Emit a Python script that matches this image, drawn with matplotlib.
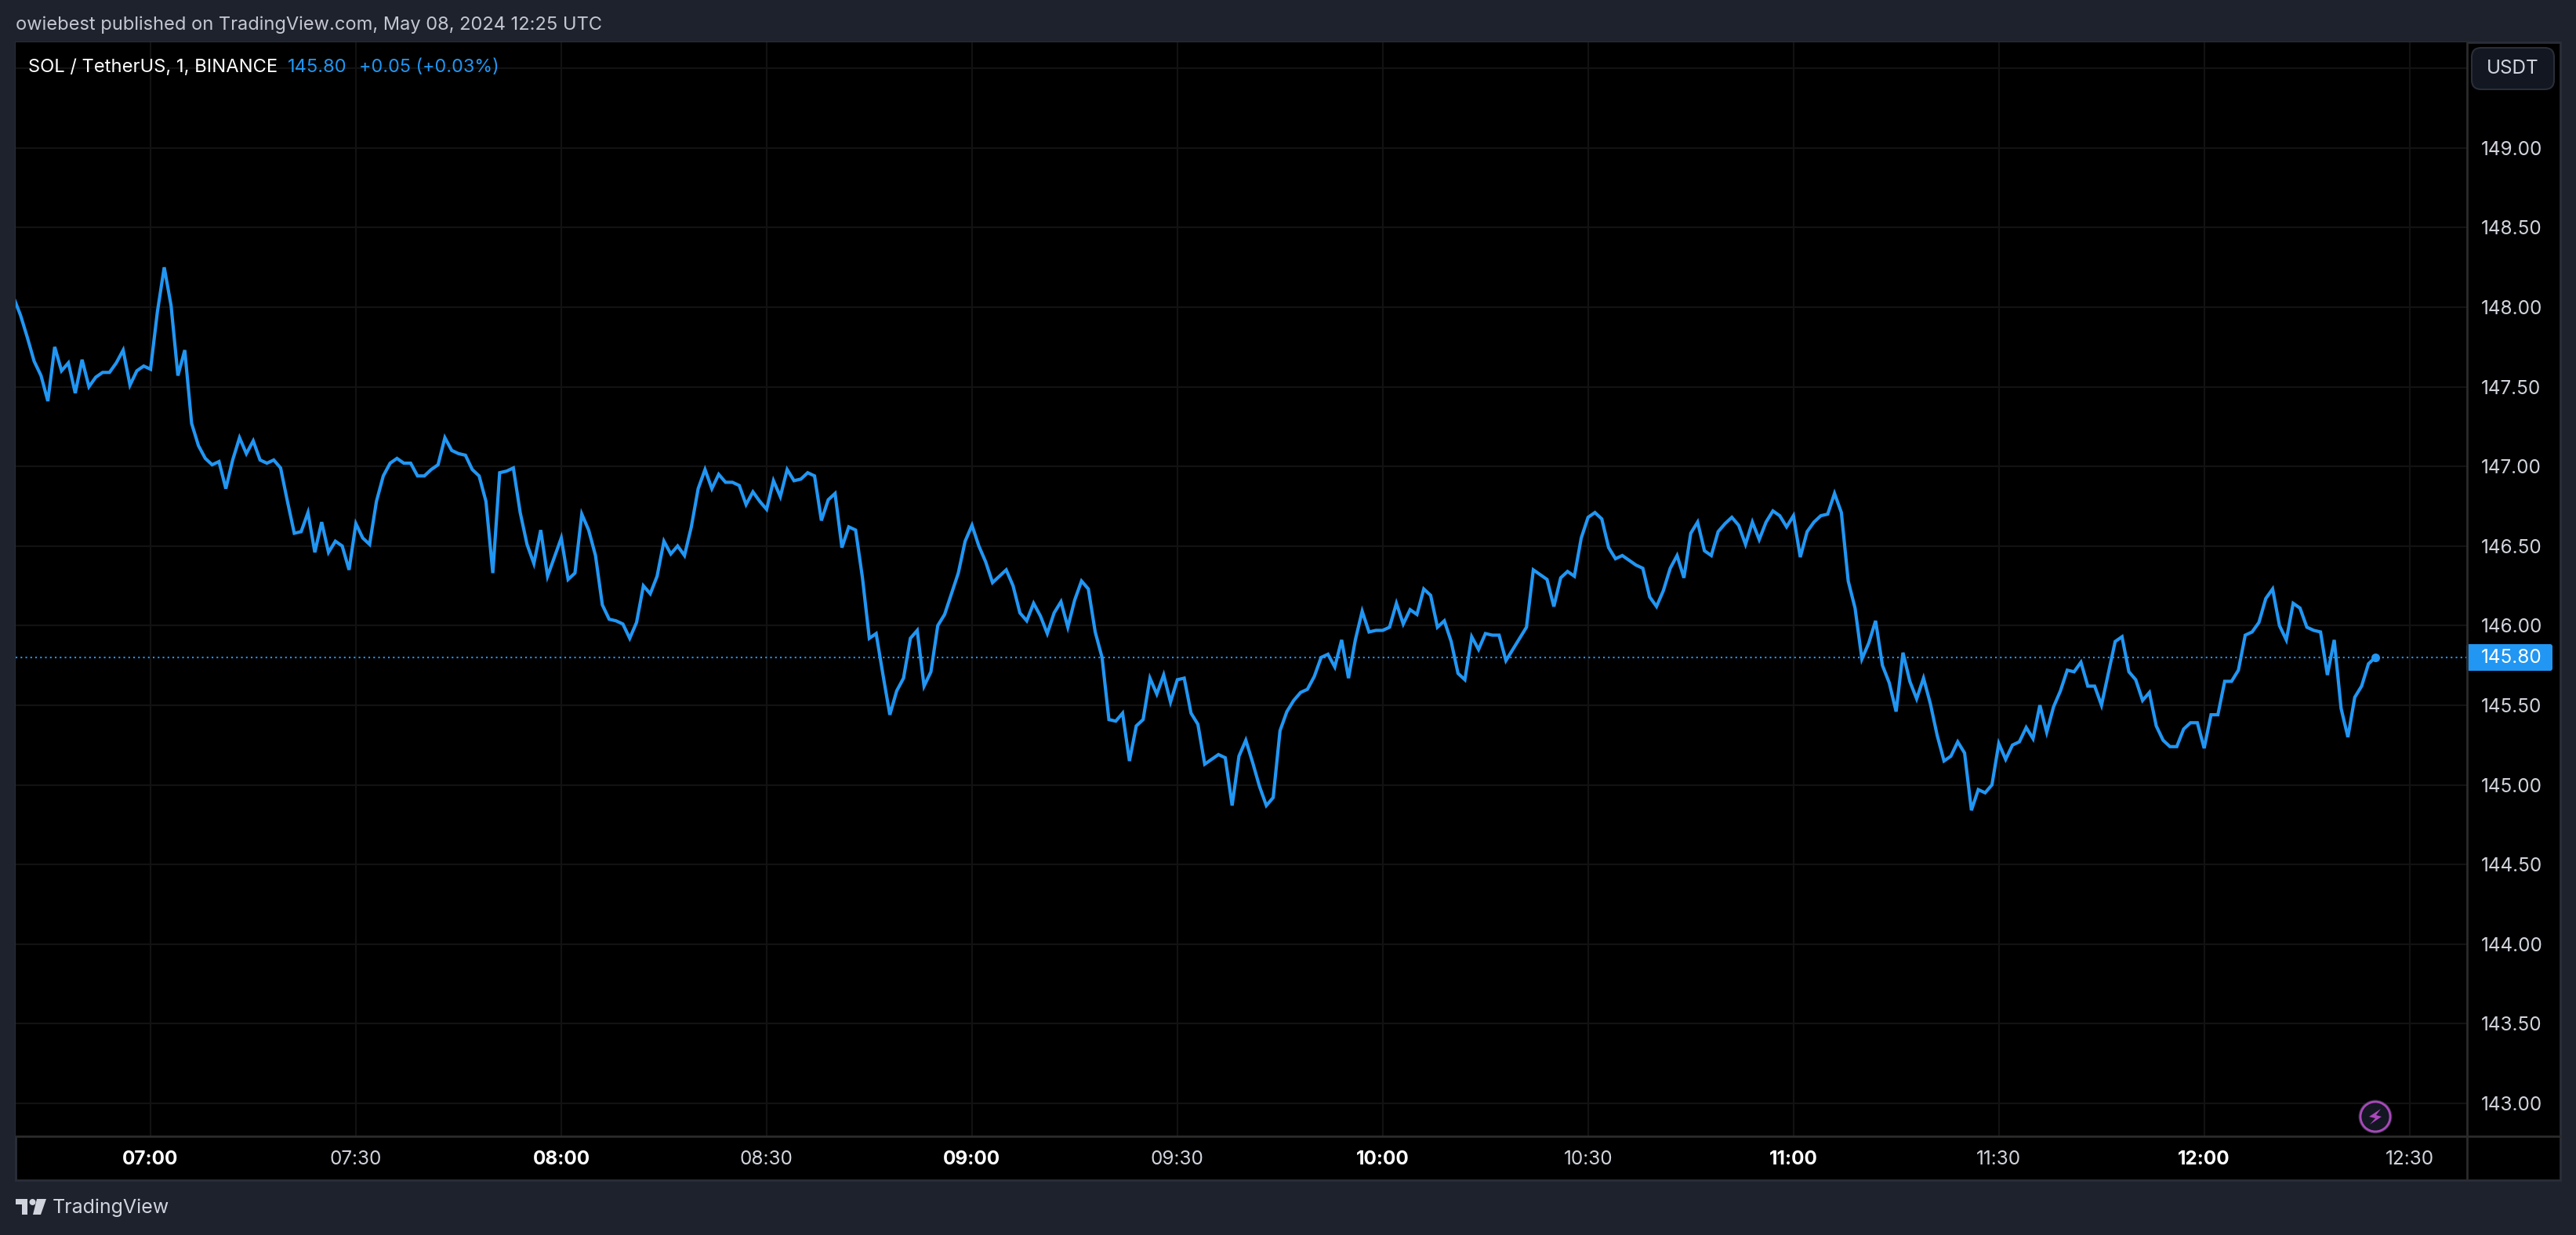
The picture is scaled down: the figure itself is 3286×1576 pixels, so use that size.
# -*- coding: utf-8 -*-
import numpy as np
import pandas as pd
import matplotlib
matplotlib.use('Agg')
import matplotlib.pyplot as plt
from matplotlib.patches import Rectangle, Circle, Polygon, FancyBboxPatch

W, H = 3286, 1576

# 1 minute closes, 06:40 to 12:25
prices = [
    148.06, 147.95, 147.81, 147.66, 147.57, 147.41, 147.75, 147.60, 147.65, 147.46,
    147.67, 147.50, 147.56, 147.59, 147.59, 147.65, 147.73, 147.51, 147.60, 147.63,
    147.61, 147.97, 148.25, 148.01, 147.57, 147.73, 147.27, 147.13, 147.05, 147.01,
    147.03, 146.86, 147.04, 147.18, 147.08, 147.16, 147.04, 147.02, 147.04, 146.99,
    146.78, 146.58, 146.59, 146.71, 146.46, 146.65, 146.46, 146.53, 146.50, 146.35,
    146.64, 146.55, 146.51, 146.78, 146.94, 147.02, 147.05, 147.02, 147.02, 146.94,
    146.94, 146.98, 147.01, 147.18, 147.10, 147.08, 147.07, 146.98, 146.94, 146.78,
    146.33, 146.96, 146.97, 146.99, 146.71, 146.51, 146.39, 146.60, 146.31, 146.43,
    146.55, 146.29, 146.33, 146.70, 146.60, 146.44, 146.13, 146.04, 146.03, 146.01,
    145.92, 146.02, 146.25, 146.20, 146.31, 146.53, 146.45, 146.50, 146.44, 146.62,
    146.86, 146.98, 146.86, 146.95, 146.90, 146.90, 146.88, 146.76, 146.84, 146.78,
    146.73, 146.91, 146.81, 146.98, 146.91, 146.92, 146.96, 146.94, 146.66, 146.79,
    146.83, 146.49, 146.62, 146.60, 146.30, 145.92, 145.95, 145.69, 145.44, 145.59,
    145.67, 145.92, 145.97, 145.62, 145.71, 146.00, 146.07, 146.20, 146.33, 146.53,
    146.63, 146.50, 146.40, 146.27, 146.31, 146.35, 146.25, 146.08, 146.03, 146.14,
    146.06, 145.95, 146.08, 146.15, 145.99, 146.16, 146.28, 146.23, 145.96, 145.80,
    145.41, 145.40, 145.45, 145.15, 145.37, 145.41, 145.67, 145.57, 145.69, 145.52,
    145.66, 145.67, 145.45, 145.38, 145.13, 145.16, 145.19, 145.17, 144.87, 145.18,
    145.28, 145.14, 144.99, 144.87, 144.92, 145.34, 145.46, 145.53, 145.58, 145.60,
    145.68, 145.80, 145.82, 145.74, 145.91, 145.67, 145.91, 146.09, 145.96, 145.97,
    145.97, 145.99, 146.14, 146.01, 146.10, 146.07, 146.23, 146.19, 145.99, 146.03,
    145.90, 145.70, 145.66, 145.93, 145.85, 145.95, 145.94, 145.94, 145.78, 145.85,
    145.92, 145.99, 146.35, 146.32, 146.29, 146.12, 146.30, 146.34, 146.31, 146.55,
    146.68, 146.71, 146.67, 146.49, 146.42, 146.44, 146.41, 146.38, 146.36, 146.18,
    146.12, 146.22, 146.36, 146.44, 146.30, 146.58, 146.65, 146.47, 146.44, 146.59,
    146.64, 146.68, 146.63, 146.51, 146.65, 146.54, 146.65, 146.72, 146.69, 146.62,
    146.69, 146.43, 146.59, 146.65, 146.69, 146.70, 146.83, 146.71, 146.28, 146.11,
    145.79, 145.89, 146.03, 145.75, 145.64, 145.46, 145.83, 145.65, 145.54, 145.67,
    145.51, 145.31, 145.15, 145.18, 145.27, 145.20, 144.84, 144.97, 144.95, 145.00,
    145.26, 145.16, 145.25, 145.27, 145.36, 145.29, 145.50, 145.33, 145.49, 145.59,
    145.72, 145.71, 145.77, 145.62, 145.62, 145.50, 145.70, 145.90, 145.93, 145.71,
    145.66, 145.53, 145.58, 145.37, 145.28, 145.24, 145.24, 145.35, 145.39, 145.39,
    145.23, 145.44, 145.44, 145.65, 145.65, 145.72, 145.94, 145.96, 146.02, 146.17,
    146.23, 146.00, 145.91, 146.14, 146.11, 145.99, 145.97, 145.96, 145.69, 145.91,
    145.48, 145.30, 145.55, 145.62, 145.76, 145.80,
]
last_price = 145.80
price_ticks = [143.0, 143.5, 144.0, 144.5, 145.0, 145.5, 146.0, 146.5, 147.0, 147.5, 148.0, 148.5, 149.0]
hidden_grid = [149.5]
time_ticks = ['07:00', '07:30', '08:00', '08:30', '09:00', '09:30', '10:00', '10:30',
              '11:00', '11:30', '12:00', '12:30']

BG = '#1e222d'
BORDER = '#2a2e39'
AXIS_LINE = '#2b2b2b'
GRID = '#121212'
BLUE = '#2196f3'
TXT = '#d1d4dc'

plt.rcParams['font.family'] = ['Inter', 'Roboto', 'DejaVu Sans']

fig = plt.figure(figsize=(W / 100, H / 100), dpi=100, facecolor=BG)


def px_axes(zorder):
    # whole figure in pixel coordinates, for the TradingView chrome
    a = fig.add_axes([0, 0, 1, 1], zorder=zorder)
    a.set_xlim(0, W)
    a.set_ylim(H, 0)
    a.axis('off')
    a.patch.set_alpha(0)
    return a


back = px_axes(0)
back.add_patch(Rectangle((20, 54), 3246, 1452, fc='black', ec=BORDER, lw=2))

# main chart
left, right, top, bottom = 20, 3147, 54, 1450
ax = fig.add_axes([left / W, 1 - bottom / H, (right - left) / W, (bottom - top) / H], zorder=1)
ax.set_facecolor('black')
times = pd.date_range('2024-05-08 06:40', periods=len(prices), freq='min')
tick_times = [pd.Timestamp('2024-05-08 ' + t) for t in time_ticks]
ax.set_xlim(pd.Timestamp('2024-05-08 06:40:18'), pd.Timestamp('2024-05-08 12:38:24'))
ax.set_ylim(142.793, 149.663)

for p in price_ticks + hidden_grid:
    ax.axhline(p, color=GRID, lw=1.6, zorder=1)
for t in tick_times:
    ax.axvline(t, color=GRID, lw=1.6, zorder=1)

ax.axhline(last_price, color=BLUE, lw=1.5, ls=(0, (1, 2)), zorder=2)
ax.plot(times, prices, color=BLUE, lw=3.0, solid_joinstyle='miter', zorder=3)
ax.plot(times[-1], prices[-1], 'o', color=BLUE, ms=8, mew=0, zorder=4)

ax.yaxis.tick_right()
ax.set_yticks(price_ticks)
ax.set_yticklabels(['%.2f' % p for p in price_ticks])
ax.set_xticks(tick_times)
ax.set_xticklabels(time_ticks)
ax.tick_params(axis='y', length=0, pad=13, labelsize=17.5, labelcolor=TXT)
ax.tick_params(axis='x', length=0, pad=13, labelsize=17.5, labelcolor=TXT)
for lab in ax.get_xticklabels():
    if lab.get_text().endswith(':00'):
        lab.set_fontweight('bold')
        lab.set_color('white')
for s in ax.spines.values():
    s.set_visible(False)

front = px_axes(2)
front.plot([20, 3266], [1450, 1450], color=AXIS_LINE, lw=2)
front.plot([3147, 3147], [54, 1506], color=AXIS_LINE, lw=2)

# header and legend
front.text(20, 32, 'owiebest published on TradingView.com, May 08, 2024 12:25 UTC',
           color='#c4c7d1', fontsize=17.0, va='center')
front.text(36, 86, 'SOL / TetherUS, 1, BINANCE', color='white', fontsize=17.1, va='center')
front.text(367, 86, '145.80', color=BLUE, fontsize=17.0, va='center')
front.text(458, 86, '+0.05 (+0.03%)', color=BLUE, fontsize=16.8, va='center')

# currency button
front.add_patch(FancyBboxPatch((3153 + 10, 61 + 10), 85, 33, boxstyle='round,pad=10,rounding_size=12',
                               fc='#131722', ec=BORDER, lw=1.5))
front.text(3205, 87, 'USDT', color=TXT, fontsize=17.5, ha='center', va='center')

# last price label
front.add_patch(FancyBboxPatch((3149, 825), 104, 28, boxstyle='round,pad=3,rounding_size=3',
                               fc=BLUE, ec='none'))
front.text(3204, 839, '%.2f' % last_price, color='white', fontsize=17.5, ha='center', va='center')

# bolt badge
front.add_patch(Circle((3030, 1425), 21.5, fc=BORDER, ec='none'))
front.add_patch(Circle((3030, 1425), 19, fc='#131722', ec='#ab47bc', lw=2))
front.add_patch(Polygon([(3037, 1415), (3022, 1425), (3030, 1427), (3023, 1435),
                         (3038, 1425), (3031, 1423)], fc='#ab47bc', ec='none'))

# logo and wordmark
front.add_patch(Polygon([(20, 1530), (35, 1530), (35, 1550), (28, 1550), (28, 1537), (20, 1537)],
                        fc=TXT, ec='none'))
front.add_patch(Circle((41.5, 1534), 4, fc=TXT, ec='none'))
front.add_patch(Polygon([(47, 1530), (59, 1530), (52, 1550), (42, 1550)], fc=TXT, ec='none'))
front.text(67, 1541, 'TradingView', color=TXT, fontsize=18, va='center')

fig.savefig('out.png', dpi=100, facecolor=BG)
